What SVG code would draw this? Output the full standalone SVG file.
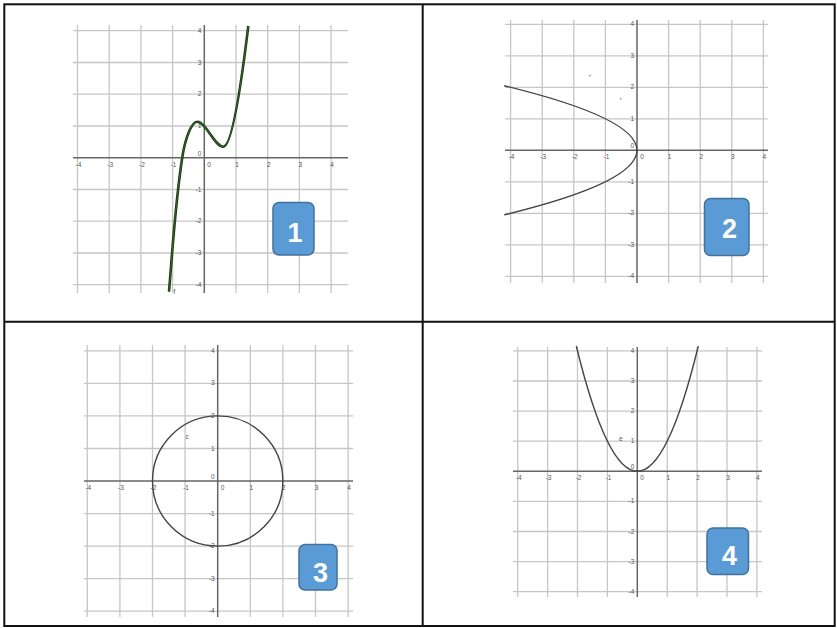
<svg xmlns="http://www.w3.org/2000/svg" width="837" height="628" viewBox="0 0 837 628">
<style>
.g{stroke:#c6c6c6;stroke-width:1.3;fill:none}
.ax{stroke:#666;stroke-width:1.5;fill:none}
.t{font-family:"Liberation Sans",Arial,sans-serif;font-size:6.5px;fill:#555}
.tx{text-anchor:middle}
.ty{text-anchor:end}
.cv{fill:none;stroke:#444;stroke-width:1.4}
.badge{fill:#5b9bd5;stroke:#41719c;stroke-width:1.5}
.bt{font-family:"Liberation Sans",Arial,sans-serif;font-size:27px;font-weight:bold;fill:#fff;text-anchor:middle}
.frame{fill:none;stroke:#111;stroke-width:2}
</style>
<rect x="0" y="0" width="837" height="628" fill="#fff"/>

<g id="panel1">
<g class="g">
<path d="M77.5,25V293M109.2,25V293M140.9,25V293M172.6,25V293M236,25V293M267.7,25V293M299.4,25V293M331.1,25V293"/>
<path d="M73,30.7H348M73,62.5H348M73,94.2H348M73,126H348M73,189.5H348M73,221.2H348M73,253H348M73,284.7H348"/>
</g>
<path class="ax" d="M73,157.7H348M204.3,25V293"/>
<g class="t tx">
<text x="78.5" y="166.7">-4</text><text x="110.2" y="166.7">-3</text><text x="141.9" y="166.7">-2</text><text x="173.6" y="166.7">-1</text><text x="209" y="166.7">0</text><text x="237" y="166.7">1</text><text x="268.7" y="166.7">2</text><text x="300.4" y="166.7">3</text><text x="332.1" y="166.7">4</text>
</g>
<g class="t ty">
<text x="201.3" y="32.7">4</text><text x="201.3" y="64.5">3</text><text x="201.3" y="96.2">2</text><text x="201.3" y="128">1</text><text x="201.3" y="155.7">0</text><text x="201.3" y="191.5">-1</text><text x="201.3" y="223.2">-2</text><text x="201.3" y="255">-3</text><text x="201.3" y="286.7">-4</text>
</g>
<path d="M169,291.7C172.75,246.7 175.4,201 182.5,156C185.2,139 191.3,121.7 197.3,121.7C206,121.7 214.6,146.7 223.3,146.7C231.3,146.7 240,95 248.3,26" fill="none" stroke="#1c3516" stroke-width="2.6"/>
<path d="M169,291.7C172.75,246.7 175.4,201 182.5,156C185.2,139 191.3,121.7 197.3,121.7C206,121.7 214.6,146.7 223.3,146.7C231.3,146.7 240,95 248.3,26" fill="none" stroke="#2f6423" stroke-width="1.1"/>
<text class="t" x="173.5" y="293.5">f</text>
<rect class="badge" x="273" y="202.5" width="41" height="52.5" rx="6"/>
<text class="bt" x="295" y="241.5">1</text>
</g>

<g id="panel2">
<g class="g">
<path d="M510.6,20V283M542.2,20V283M573.8,20V283M605.4,20V283M668.6,20V283M700.2,20V283M731.8,20V283M763.4,20V283"/>
<path d="M505,24.3H768M505,55.8H768M505,87.3H768M505,118.8H768M505,181.8H768M505,213.3H768M505,244.8H768M505,276.3H768"/>
</g>
<path class="ax" d="M505,150.3H768M637,20V283"/>
<g class="t tx">
<text x="511.6" y="159.3">-4</text><text x="543.2" y="159.3">-3</text><text x="574.8" y="159.3">-2</text><text x="606.4" y="159.3">-1</text><text x="642" y="159.3">0</text><text x="669.6" y="159.3">1</text><text x="701.2" y="159.3">2</text><text x="732.8" y="159.3">3</text><text x="764.4" y="159.3">4</text>
</g>
<g class="t ty">
<text x="634" y="26.3">4</text><text x="634" y="57.8">3</text><text x="634" y="89.3">2</text><text x="634" y="120.8">1</text><text x="634" y="148.3">0</text><text x="634" y="183.8">-1</text><text x="634" y="215.3">-2</text><text x="634" y="246.8">-3</text><text x="634" y="278.3">-4</text>
</g>
<path class="cv" d="M504.2,85.7Q769.8,150.3 504.2,214.9"/>
<circle cx="590" cy="75.7" r="0.8" fill="#777"/>
<circle cx="620.7" cy="98.7" r="0.8" fill="#777"/>
<rect class="badge" x="704.5" y="198.5" width="44.5" height="57" rx="6"/>
<text class="bt" x="729.5" y="238">2</text>
</g>

<g id="panel3">
<g class="g">
<path d="M87.3,345V617M119.9,345V617M152.5,345V617M185.1,345V617M250.3,345V617M282.9,345V617M315.5,345V617M348.1,345V617"/>
<path d="M84,350.8H353M84,383.4H353M84,415.9H353M84,448.5H353M84,513.6H353M84,546.1H353M84,578.7H353M84,611.2H353"/>
</g>
<path class="ax" d="M84,481H353M217.7,345V617"/>
<g class="t tx">
<text x="88.3" y="490">-4</text><text x="120.9" y="490">-3</text><text x="153.5" y="490">-2</text><text x="186.1" y="490">-1</text><text x="222.5" y="490">0</text><text x="251.3" y="490">1</text><text x="283.9" y="490">2</text><text x="316.5" y="490">3</text><text x="349.1" y="490">4</text>
</g>
<g class="t ty">
<text x="214.7" y="352.8">4</text><text x="214.7" y="385.4">3</text><text x="214.7" y="417.9">2</text><text x="214.7" y="450.5">1</text><text x="214.7" y="479">0</text><text x="214.7" y="515.6">-1</text><text x="214.7" y="548.1">-2</text><text x="214.7" y="580.7">-3</text><text x="214.7" y="613.2">-4</text>
</g>
<ellipse class="cv" cx="217.7" cy="481" rx="65.2" ry="65.1"/>
<text class="t" x="185.5" y="438.5">c</text>
<rect class="badge" x="299" y="544.5" width="38" height="45.5" rx="6"/>
<text class="bt" x="320.5" y="581.5">3</text>
</g>

<g id="panel4">
<g class="g">
<path d="M517.7,347V597M547.6,347V597M577.5,347V597M607.4,347V597M667.2,347V597M697.1,347V597M727,347V597M756.9,347V597"/>
<path d="M513,350.9H762M513,381H762M513,411.1H762M513,441.2H762M513,501.4H762M513,531.5H762M513,561.6H762M513,591.7H762"/>
</g>
<path class="ax" d="M513,471.3H762M637.3,347V597"/>
<g class="t tx">
<text x="518.7" y="480">-4</text><text x="548.6" y="480">-3</text><text x="578.5" y="480">-2</text><text x="608.4" y="480">-1</text><text x="642" y="480">0</text><text x="668.2" y="480">1</text><text x="698.1" y="480">2</text><text x="728" y="480">3</text><text x="757.9" y="480">4</text>
</g>
<g class="t ty">
<text x="634.3" y="352.9">4</text><text x="634.3" y="383">3</text><text x="634.3" y="413.1">2</text><text x="634.3" y="443.2">1</text><text x="634.3" y="469.3">0</text><text x="634.3" y="503.4">-1</text><text x="634.3" y="533.5">-2</text><text x="634.3" y="563.6">-3</text><text x="634.3" y="593.7">-4</text>
</g>
<path class="cv" d="M576.3,346Q637.3,596.6 698.3,346"/>
<text class="t" x="619" y="441">e</text>
<rect class="badge" x="707" y="528" width="41.5" height="46.5" rx="6"/>
<text class="bt" x="729.5" y="565">4</text>
</g>

<g id="frame">
<rect class="frame" x="4.3" y="4.3" width="830.4" height="621.7"/>
<path class="frame" d="M4.3,321.7H834.7M422.7,4.3V626"/>
</g>
</svg>
